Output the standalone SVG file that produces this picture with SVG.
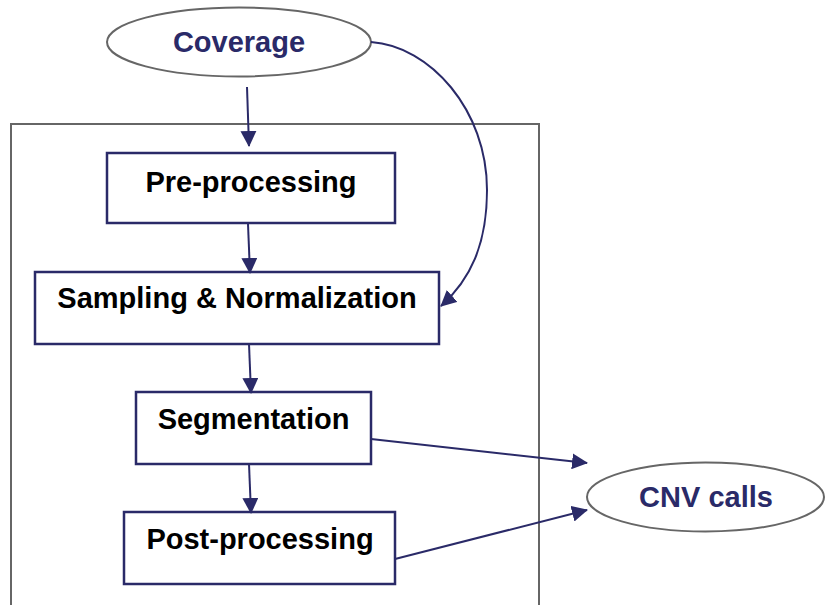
<svg xmlns="http://www.w3.org/2000/svg" width="825" height="605" viewBox="0 0 825 605">
<style>
.box{fill:#fff;stroke:#2a2a68;stroke-width:2.5}
.ell{fill:#fff;stroke:#666;stroke-width:2}
.frame{fill:none;stroke:#666;stroke-width:2}
.lbl{font-family:"Liberation Sans",Arial,sans-serif;font-weight:bold;font-size:29px;fill:#000;text-anchor:middle}
.elbl{fill:#2a2a68}
.conn{fill:none;stroke:#2a2a68;stroke-width:2;marker-end:url(#ah)}
</style>
<defs>
<marker id="ah" markerUnits="userSpaceOnUse" markerWidth="16" markerHeight="16" refX="15" refY="8" orient="auto">
<path d="M0,0 L16,8 L0,16 z" fill="#2a2a68"/>
</marker>
</defs>
<rect width="825" height="605" fill="#fff"/>
<path class="frame" d="M11,612 L11,124 L539,124 L539,612"/>
<g id="coverage"><ellipse class="ell" cx="239" cy="42" rx="132" ry="34.5"/><text class="lbl elbl" x="239" y="52">Coverage</text></g>
<g id="preprocessing"><rect class="box" x="107" y="153" width="288" height="70"/><text class="lbl" x="251" y="192">Pre-processing</text></g>
<g id="sampling"><rect class="box" x="35" y="272" width="404" height="72"/><text class="lbl" x="237" y="308">Sampling &amp; Normalization</text></g>
<g id="segmentation"><rect class="box" x="136" y="392" width="235" height="72"/><text class="lbl" x="253.5" y="429">Segmentation</text></g>
<g id="postprocessing"><rect class="box" x="124" y="512" width="271" height="72"/><text class="lbl" x="260" y="549">Post-processing</text></g>
<g id="cnvcalls"><ellipse class="ell" cx="705.5" cy="497" rx="118.5" ry="34.5"/><text class="lbl elbl" x="706" y="507">CNV calls</text></g>
<g id="connectors">
<line class="conn" x1="247" y1="87" x2="249" y2="146"/>
<line class="conn" x1="248" y1="224" x2="250" y2="273"/>
<line class="conn" x1="249" y1="344" x2="251" y2="393"/>
<line class="conn" x1="249" y1="464" x2="251" y2="513"/>
<line class="conn" x1="371" y1="439" x2="587" y2="463"/>
<line class="conn" x1="395" y1="559" x2="587" y2="510"/>
<path class="conn" d="M371,42 C430,46 487,110 487,190 C487,245 470,280 441,306"/>
</g>
</svg>
